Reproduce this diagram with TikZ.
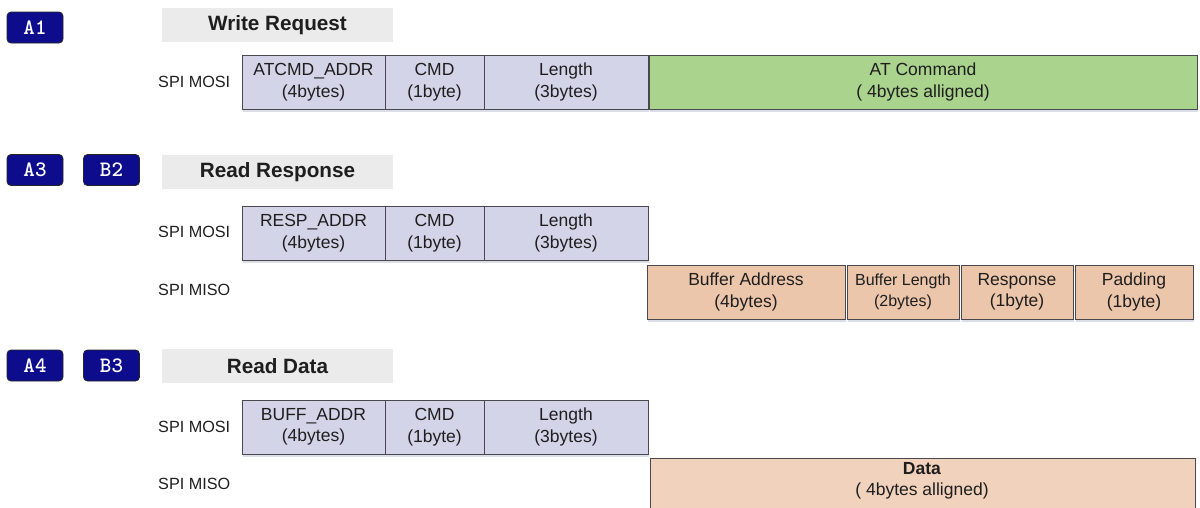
\documentclass[tikz,border=0pt]{standalone}
\usepackage{fontspec}
\setmainfont{Liberation Sans}
\usetikzlibrary{shadows}
\definecolor{mosicol}{RGB}{212,212,233}
\definecolor{atgreen}{RGB}{170,211,141}
\definecolor{misocol}{RGB}{236,198,170}
\definecolor{datacol}{RGB}{240,210,189}
\definecolor{titlegray}{RGB}{235,235,235}
\definecolor{badgeblue}{RGB}{12,12,140}
\definecolor{edgecol}{RGB}{72,72,78}
\definecolor{txtcol}{RGB}{30,30,30}
\definecolor{shadowcol}{RGB}{150,160,190}
\tikzset{
  fieldbox/.style={draw=edgecol, line width=0.9pt, inner sep=0pt, align=center,
    text=txtcol, font=\fontsize{17.5pt}{21.5pt}\selectfont,
    drop shadow={shadow xshift=1pt, shadow yshift=-2.5pt, opacity=0.35, fill=shadowcol}},
  mosibox/.style={fieldbox, fill=mosicol},
  atbox/.style={fieldbox, fill=atgreen},
  misobox/.style={fieldbox, fill=misocol},
  databox/.style={fieldbox, fill=datacol},
  smalltext/.style={font=\fontsize{16pt}{20.5pt}\selectfont},
  titlebar/.style={fill=titlegray, inner sep=0pt, text=txtcol,
    font=\fontsize{20.7pt}{24pt}\selectfont\bfseries},
  badge/.style={fill=badgeblue, draw=black!85, line width=0.8pt, rounded corners=4pt,
    inner sep=0pt, minimum width=56pt, minimum height=31pt, text=white,
    font=\ttfamily\bfseries\fontsize{22pt}{22pt}\selectfont},
  lanelabel/.style={anchor=west, inner sep=0pt, text=txtcol,
    font=\fontsize{16.2pt}{19pt}\selectfont},
  plaintext/.style={inner sep=0pt, align=center, text=txtcol,
    font=\fontsize{17.5pt}{21.5pt}\selectfont}
}
% name, x1, y1, x2, y2, style, text
\newcommand\fieldat[7]{%
  \node[#6, minimum width={(#4-#2)*1pt}, minimum height={(#5-#3)*1pt}]
    (#1) at ({(#2+#4)/2},{(#3+#5)/2}) {#7};}
\begin{document}
\begin{tikzpicture}[x=1pt,y=-1pt]
\useasboundingbox (0,0) rectangle (1200,507);
\clip (0,0) rectangle (1200,507);

% ---------- Write Request ----------
\node[badge] (bA1) at (35,27.5) {A1};
\fieldat{t1}{162}{8}{393}{42}{titlebar}{Write Request}
\node[lanelabel] (l1mosi) at (158,82) {SPI MOSI};
\fieldat{w1}{242}{55}{385}{109}{mosibox}{ATCMD\_ADDR\\(4bytes)}
\fieldat{w2}{385}{55}{484}{109}{mosibox}{CMD\\(1byte)}
\fieldat{w3}{484}{55}{648}{109}{mosibox}{Length\\(3bytes)}
\fieldat{w4}{649}{55}{1197}{109}{atbox}{AT Command\\( 4bytes alligned)}

% ---------- Read Response ----------
\node[badge] (bA3) at (35,170) {A3};
\node[badge] (bB2) at (111.5,170) {B2};
\fieldat{t2}{162}{155}{393}{189}{titlebar}{Read Response}
\node[lanelabel] (l2mosi) at (158,232) {SPI MOSI};
\node[lanelabel] (l2miso) at (158,290) {SPI MISO};
\fieldat{r1}{242}{206}{385}{260}{mosibox}{RESP\_ADDR\\(4bytes)}
\fieldat{r2}{385}{206}{484}{260}{mosibox}{CMD\\(1byte)}
\fieldat{r3}{484}{206}{648}{260}{mosibox}{Length\\(3bytes)}
\fieldat{m1}{647}{265}{845}{319}{misobox}{Buffer Address\\(4bytes)}
\fieldat{m2}{847}{265}{959}{319}{misobox,smalltext}{Buffer Length\\(2bytes)}
\fieldat{m3}{961}{265}{1073}{319}{misobox}{Response\\(1byte)}
\fieldat{m4}{1075}{265}{1193}{319}{misobox}{Padding\\(1byte)}

% ---------- Read Data ----------
\node[badge] (bA4) at (35,365.5) {A4};
\node[badge] (bB3) at (111.5,365.5) {B3};
\fieldat{t3}{162}{349}{393}{383}{titlebar}{Read Data}
\node[lanelabel] (l3mosi) at (158,427) {SPI MOSI};
\node[lanelabel] (l3miso) at (158,484) {SPI MISO};
\fieldat{d1}{242}{400}{385}{454}{mosibox}{BUFF\_ADDR\\(4bytes)}
\fieldat{d2}{385}{400}{484}{454}{mosibox}{CMD\\(1byte)}
\fieldat{d3}{484}{400}{648}{454}{mosibox}{Length\\(3bytes)}
\fieldat{dd}{650}{458}{1195}{540}{databox}{}
\node[plaintext] (ddtext) at (922,481) {\textbf{Data}\\( 4bytes alligned)};
\end{tikzpicture}
\end{document}
